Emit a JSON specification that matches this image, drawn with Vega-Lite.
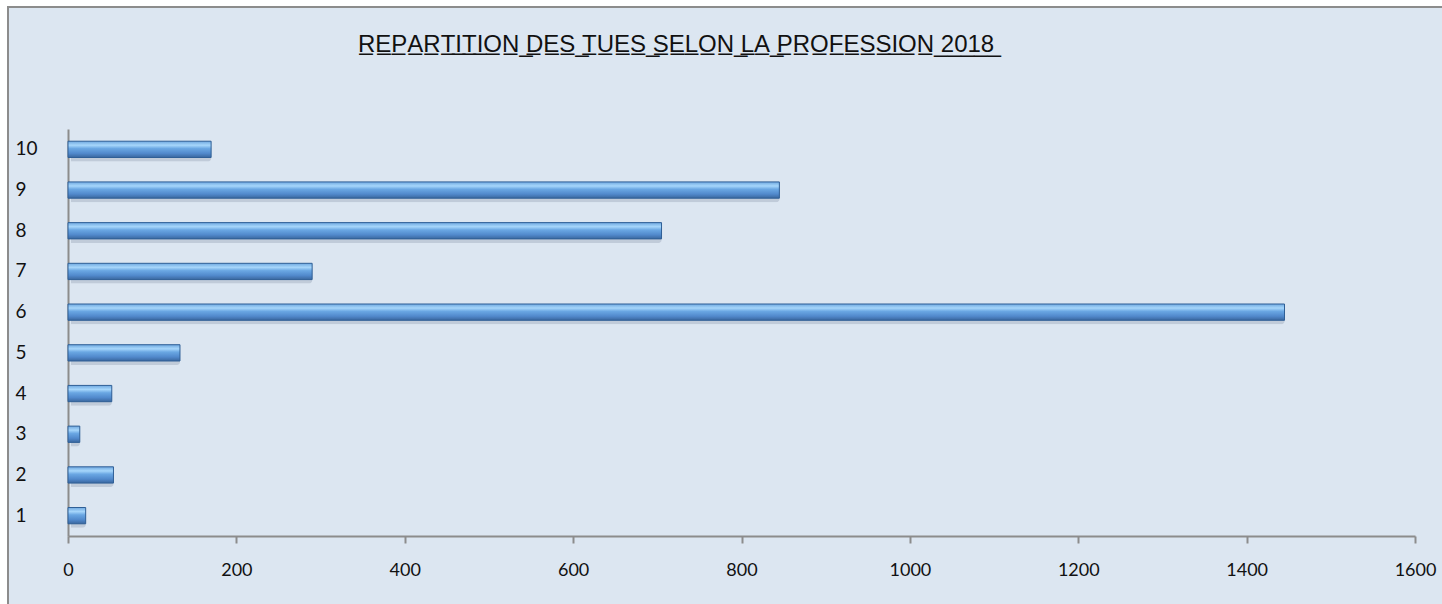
{
  "$schema": "https://vega.github.io/schema/vega-lite/v6.json",
  "autosize": {"type": "none"},
  "width": 1436,
  "height": 599,
  "padding": {"left": 8, "top": 7, "right": 0, "bottom": 0},
  "background": "white",
  "view": {"fill": "#dce6f1", "stroke": "#8c8c8c", "strokeWidth": 2},
  "title": {
    "text": "R̲E̲P̲A̲R̲T̲I̲T̲I̲O̲N̲ ̲D̲E̲S̲ ̲T̲U̲E̲S̲ ̲S̲E̲L̲O̲N̲ ̲L̲A̲ ̲P̲R̲O̲F̲E̲S̲S̲I̲O̲N̲ ̲2̲0̲1̲8̲",
    "anchor": "start",
    "frame": "group",
    "dx": 350,
    "dy": 26,
    "offset": -43,
    "baseline": "alphabetic",
    "font": "Liberation Sans Narrow, Liberation Sans",
    "fontSize": 24,
    "fontWeight": "normal",
    "color": "#111111"
  },
  "data": {
    "values": [
      {"categorie": "1", "tues": 21},
      {"categorie": "2", "tues": 54},
      {"categorie": "3", "tues": 14},
      {"categorie": "4", "tues": 52},
      {"categorie": "5", "tues": 133},
      {"categorie": "6", "tues": 1445},
      {"categorie": "7", "tues": 290},
      {"categorie": "8", "tues": 705},
      {"categorie": "9", "tues": 845},
      {"categorie": "10", "tues": 170}
    ]
  },
  "encoding": {
    "y": {
      "field": "categorie",
      "type": "ordinal",
      "sort": ["10", "9", "8", "7", "6", "5", "4", "3", "2", "1"],
      "scale": {"range": [122, 529], "paddingInner": 0.6, "paddingOuter": 0.3},
      "axis": {
        "title": null,
        "offset": -60,
        "ticks": false,
        "domainColor": "#8c8c8c",
        "domainWidth": 2,
        "labelAlign": "left",
        "labelPadding": 53,
        "labelFont": "Lato",
        "labelFontSize": 19,
        "labelColor": "#111111"
      }
    },
    "x": {
      "field": "tues",
      "type": "quantitative",
      "scale": {"domain": [0, 1600], "range": [60, 1407], "nice": false},
      "axis": {
        "title": null,
        "offset": -70,
        "values": [0, 200, 400, 600, 800, 1000, 1200, 1400, 1600],
        "format": "d",
        "grid": false,
        "domainColor": "#8c8c8c",
        "domainWidth": 2,
        "tickColor": "#8c8c8c",
        "tickWidth": 2,
        "tickSize": 7,
        "labelPadding": 18,
        "labelFont": "Lato",
        "labelFontSize": 18,
        "labelColor": "#111111",
        "labelFlush": false
      }
    }
  },
  "layer": [
    {
      "mark": {"type": "bar", "fill": "#6b7d95", "opacity": 0.25, "yOffset": 4, "xOffset": 3, "cornerRadius": 3}
    },
    {
      "mark": {
        "type": "bar",
        "stroke": "#2f5f96",
        "strokeWidth": 1,
        "fill": {
          "gradient": "linear",
          "x1": 0, "y1": 0, "x2": 0, "y2": 1,
          "stops": [
            {"offset": 0, "color": "#6fa8e0"},
            {"offset": 0.25, "color": "#a6d6fb"},
            {"offset": 0.45, "color": "#6aa7e3"},
            {"offset": 0.75, "color": "#5189cc"},
            {"offset": 1, "color": "#3a679e"}
          ]
        }
      }
    }
  ]
}
